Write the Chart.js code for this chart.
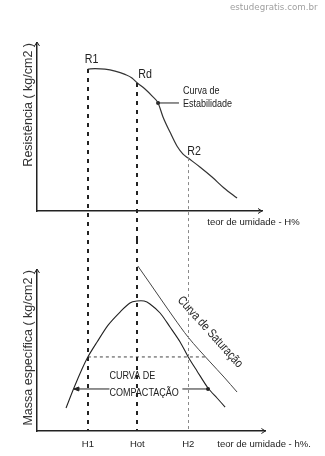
<!DOCTYPE html>
<html><head><meta charset="utf-8">
<script src="https://cdn.jsdelivr.net/npm/chart.js@4.4.0/dist/chart.umd.min.js"></script>
<style>
html,body{margin:0;padding:0;background:#fff;width:325px;height:456px;overflow:hidden;}
#wrap{position:relative;width:325px;height:456px;overflow:hidden;}
#c1{position:absolute;left:0;top:0;}
#c2{position:absolute;left:0;top:240px;}
#wm{position:absolute;left:230px;top:2px;font:8.7px "DejaVu Sans",sans-serif;line-height:10px;color:#a0a0a0;white-space:nowrap;}
</style></head><body>
<div id="wrap">
<canvas id="c1" width="325" height="240"></canvas>
<canvas id="c2" width="325" height="224"></canvas>
<div id="wm">estudegratis.com.br</div>
</div>
<script>
// ---- data (moisture in arbitrary units 0..100) ----
const H_LABELS = ['H1', 'Hot', 'H2'];
const H_VALUES = [22.6, 44.6, 67.2];
const R_LABELS = ['R1', 'Rd', 'R2'];
const R_VALUES = [84.5, 76.2, 31.5];

// stability curve (resistance vs moisture)
const stabX = [22.6, 25.8, 30.2, 34.7, 39.1, 42.2, 44.6, 48.0, 51.1, 53.8, 56.0, 59.1, 62.2, 64.9, 67.2, 72.4, 77.8, 83.1, 88.9];
const stabY = [84.5, 84.8, 84.5, 83.3, 81.3, 79.2, 76.2, 72.6, 68.5, 64.3, 56.0, 47.0, 38.7, 33.9, 31.5, 26.2, 20.2, 13.7, 7.7];
// pointer to the label "Curva de Estabilidade"
const linkX = [53.8, 63.1];
const linkY = [64.3, 64.3];

// compaction curve (density vs moisture)
const compX = [12.9, 16.4, 20.0, 22.6, 26.7, 31.6, 36.9, 41.3, 44.4, 47.6, 50.2, 54.7, 59.1, 63.6, 67.2, 71.1, 76.0, 80.0, 83.6];
const compY = [14.3, 26.7, 38.5, 46.0, 55.3, 65.8, 73.9, 79.5, 80.7, 80.7, 78.9, 73.3, 64.6, 55.3, 46.0, 37.3, 26.7, 20.5, 14.9];
// saturation curve
const satX = [44.8, 49.8, 54.7, 60.9, 67.1, 76.9, 83.1, 88.9];
const satY = [102.5, 92.5, 82.6, 70.2, 58.4, 42.9, 33.5, 24.2];
// dashed level line between H1 and the saturation curve
const levelX = [22.6, 75.5];
const levelY = [46.0, 46.0];
// arrow pointing to the compaction curve
const arrowLeftX = [16.4, 32.2];
const arrowRightX = [64.6, 76.0];
const arrowY = [26.1, 26.1];

const TOP_TICK_VALUES = [96.2];
const TOP_TICK_LABELS = ['teor de umidade - H%'];
const BOTTOM_TICK_VALUES = [22.6, 44.6, 67.2, 100.9];
const BOTTOM_TICK_LABELS = ['H1', 'Hot', 'H2', 'teor de umidade - h%.'];

// ---- styles ----
const REG = '"Liberation Sans", Arial, sans-serif';
Chart.defaults.font.family = REG;
Chart.defaults.color = '#222';
const pts = (xs, ys) => xs.map((x, i) => ({x, y: ys[i]}));

function narrowText(ctx, text, x, y, size, align, angle) {
  ctx.save();
  ctx.translate(x, y);
  if (angle) ctx.rotate(angle * Math.PI / 180);
  ctx.scale(0.82, 1);
  ctx.font = size + 'px ' + REG;
  ctx.textAlign = align || 'left';
  ctx.textBaseline = 'middle';
  ctx.fillStyle = '#222';
  ctx.fillText(text, 0, 0);
  ctx.restore();
}

function arrowHead(ctx, x, y, dir) {
  ctx.save();
  ctx.setLineDash([]);
  ctx.lineWidth = 1;
  ctx.strokeStyle = '#222';
  ctx.beginPath();
  if (dir === 'up') { ctx.moveTo(x - 2.5, y + 4); ctx.lineTo(x, y); ctx.lineTo(x + 2.5, y + 4); }
  if (dir === 'right') { ctx.moveTo(x - 4, y - 2.5); ctx.lineTo(x, y); ctx.lineTo(x - 4, y + 2.5); }
  if (dir === 'left') { ctx.moveTo(x + 5, y - 2); ctx.lineTo(x, y); ctx.lineTo(x + 5, y + 2); ctx.closePath(); ctx.fillStyle = '#222'; ctx.fill(); }
  ctx.stroke();
  ctx.restore();
}

function dashed(i) {
  return i === 2 ? {dash: [3, 3], w: 1, c: '#8a8a8a'} : {dash: [4, 5], w: 2, c: '#222'};
}

const topDeco = {
  id: 'topDeco',
  afterDatasetsDraw(chart) {
    const {ctx, scales: {x, y}, chartArea: ca} = chart;
    ctx.save();
    H_VALUES.forEach((h, i) => {
      const d = dashed(i);
      const px = Math.round(x.getPixelForValue(h)) + (d.w === 1 ? 0.5 : 0);
      const py = y.getPixelForValue(R_VALUES[i]);
      ctx.beginPath();
      ctx.setLineDash(d.dash); ctx.lineWidth = d.w; ctx.strokeStyle = d.c;
      ctx.moveTo(px, py); ctx.lineTo(px, chart.height);
      ctx.stroke();
    });
    ctx.setLineDash([]);
    const off = [[-3, -10], [1, -9], [-1, -7]];
    R_VALUES.forEach((r, i) => {
      narrowText(ctx, R_LABELS[i], x.getPixelForValue(H_VALUES[i]) + off[i][0], y.getPixelForValue(r) + off[i][1], 13);
    });
    const lx = x.getPixelForValue(linkX[1]) + 4;
    narrowText(ctx, 'Curva de', lx, y.getPixelForValue(linkY[0]) - 12, 11);
    narrowText(ctx, 'Estabilidade', lx, y.getPixelForValue(linkY[0]) + 1, 11);
    arrowHead(ctx, ca.left, ca.top - 1, 'up');
    arrowHead(ctx, ca.right, ca.bottom, 'right');
    ctx.restore();
  }
};

const botDeco = {
  id: 'botDeco',
  afterDatasetsDraw(chart) {
    const {ctx, scales: {x, y}, chartArea: ca} = chart;
    ctx.save();
    H_VALUES.forEach((h, i) => {
      const d = dashed(i);
      const px = Math.round(x.getPixelForValue(h)) + (d.w === 1 ? 0.5 : 0);
      ctx.beginPath();
      ctx.setLineDash(d.dash); ctx.lineWidth = d.w; ctx.strokeStyle = d.c;
      ctx.moveTo(px, 0); ctx.lineTo(px, ca.bottom);
      ctx.stroke();
    });
    ctx.setLineDash([]);
    arrowHead(ctx, x.getPixelForValue(arrowLeftX[0]), y.getPixelForValue(arrowY[0]), 'left');
    const tx = x.getPixelForValue(arrowLeftX[1]);
    narrowText(ctx, 'CURVA DE', tx, y.getPixelForValue(arrowY[0]) - 13, 11);
    narrowText(ctx, 'COMPACTAÇÃO', tx, y.getPixelForValue(arrowY[0]) + 3.5, 11);
    narrowText(ctx, 'Curva de Saturação', x.getPixelForValue(76.9), y.getPixelForValue(61.5), 12.5, 'center', 48);
    arrowHead(ctx, ca.left, ca.top - 1, 'up');
    arrowHead(ctx, ca.right, ca.bottom, 'right');
    ctx.restore();
  }
};

function yScale(title) {
  return {
    type: 'linear', min: 0, max: 100,
    grid: {display: false, drawTicks: false},
    border: {display: true, color: '#222', width: 1.5},
    ticks: {display: false},
    title: {display: true, text: title, align: 'end', color: '#333', padding: {top: 1, bottom: 1}, font: {size: 12.5, family: REG}}
  };
}
function xScale(max, tv, tl, pad) {
  return {
    type: 'linear', min: 0, max: max,
    grid: {display: false, drawTicks: false},
    border: {display: true, color: '#222', width: 1.5},
    afterBuildTicks: s => { s.ticks = tv.map(v => ({value: v})); },
    ticks: {autoSkip: false, maxRotation: 0, minRotation: 0, padding: pad, color: '#222',
      font: {size: 9.5, family: REG}, callback: (v, i) => tl[i]}
  };
}
const common = {
  responsive: false, animation: false,
  plugins: {legend: {display: false}, tooltip: {enabled: false}}
};

new Chart(document.getElementById('c1'), {
  type: 'scatter',
  data: {datasets: [
    {data: pts(stabX, stabY), showLine: true, borderColor: '#333', borderWidth: 1.2, pointRadius: 0, cubicInterpolationMode: 'monotone'},
    {data: pts(linkX, linkY), showLine: true, borderColor: '#222', borderWidth: 1, pointRadius: [2, 0], pointBackgroundColor: '#222', pointBorderWidth: 0}
  ]},
  options: Object.assign({}, common, {
    layout: {padding: {left: 20, right: 63, top: 43, bottom: 7}},
    scales: {x: xScale(100, TOP_TICK_VALUES, TOP_TICK_LABELS, 5.3), y: yScale('Resistência ( kg/cm2 )')}
  }),
  plugins: [topDeco]
});

new Chart(document.getElementById('c2'), {
  type: 'scatter',
  data: {datasets: [
    {data: pts(compX, compY), showLine: true, borderColor: '#222', borderWidth: 1.1, pointRadius: 0, tension: 0.3},
    {data: pts(satX, satY), showLine: true, borderColor: '#444', borderWidth: 1, pointRadius: 0, cubicInterpolationMode: 'monotone', clip: false},
    {data: pts(levelX, levelY), showLine: true, borderColor: '#444', borderWidth: 1, borderDash: [3, 3], pointRadius: 0},
    {data: pts(arrowLeftX, arrowY), showLine: true, borderColor: '#222', borderWidth: 1, pointRadius: 0},
    {data: pts(arrowRightX, arrowY), showLine: true, borderColor: '#222', borderWidth: 1, pointRadius: [0, 2], pointBackgroundColor: '#222', pointBorderWidth: 0}
  ]},
  options: Object.assign({}, common, {
    layout: {padding: {left: 20, right: 59.6, top: 30, bottom: 7}},
    scales: {x: xScale(101.5, BOTTOM_TICK_VALUES, BOTTOM_TICK_LABELS, 7.3), y: yScale('Massa específica ( kg/cm2 )')}
  }),
  plugins: [botDeco]
});
</script>
</body></html>
